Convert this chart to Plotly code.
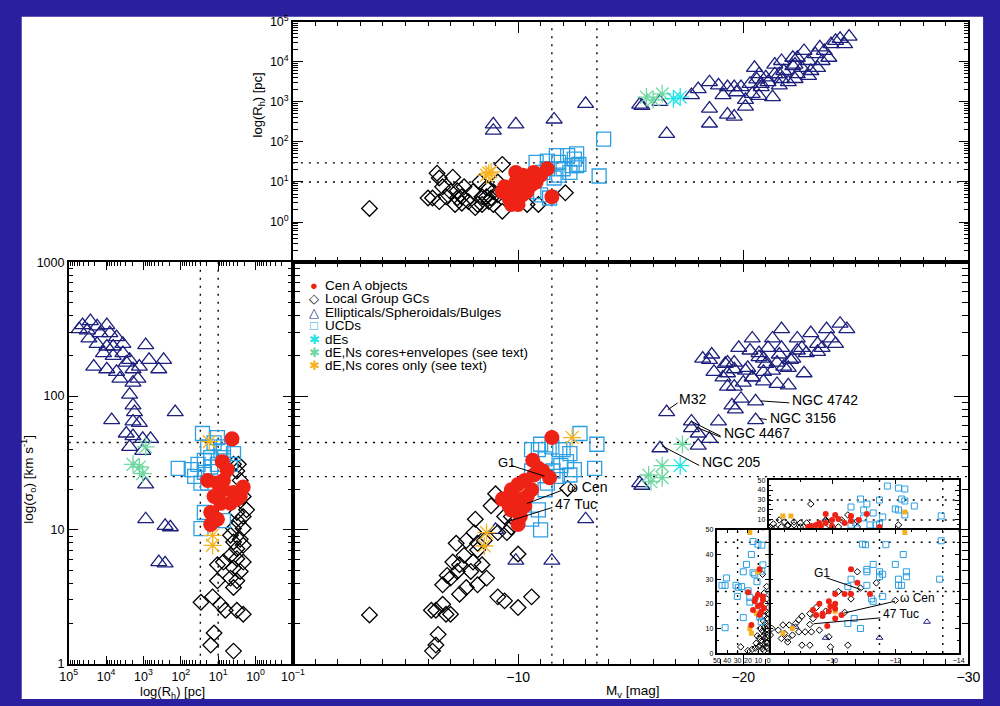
import plotly.graph_objects as go

W, H = 1000, 706
def fx(x): return x / W
def fy(y): return 1 - y / H

FONT = "Liberation Sans, Arial, sans-serif"
BG = "#2a1f9e"
C_CENA = "#ee2316"
C_GC = "#000000"
C_ELL = "#1c1f7c"
C_UCD = "#2c9fe3"
C_DE = "#22e6e6"
C_DENE = "#6fd8a2"
C_DENC = "#f5b21c"

# ---------------- DATA ----------------
# Top panel: (M_V [mag], log10 R_h [pc])
top_gc = [(-3.4, 0.34), (-6.4, 1.22), (-6.5, 1.10), (-7.1, 1.12), (-6.65, 0.88), (-6.2, 0.60), (-6.5, 0.51),
          (-7.0, 0.76), (-7.3, 0.60), (-7.5, 0.63), (-7.5, 0.47), (-7.8, 0.51), (-8.0, 0.76), (-8.2, 0.44),
          (-8.4, 0.63), (-8.6, 0.85), (-8.7, 0.51), (-8.9, 0.76), (-8.9, 0.44), (-9.3, 0.27), (-9.3, 1.44),
          (-9.1, 1.00), (-8.3, 1.00), (-10.4, 0.44), (-10.9, 0.44), (-12.1, 0.73), (-6.0, 0.60), (-6.8, 0.63),
          (-7.3, 0.78), (-7.6, 0.88), (-8.1, 0.36), (-7.2, 0.44), (-8.4, 0.44), (-8.8, 0.60), (-9.1, 0.68),
          (-8.6, 0.63), (-9.7, 0.51), (-9.8, 0.76)]
top_cena = [(-9.9, 1.24), (-10.2, 1.17), (-9.4, 0.88), (-9.6, 0.60), (-9.7, 0.44), (-10.0, 0.44), (-9.9, 0.76),
            (-10.3, 0.93), (-10.4, 1.10), (-10.7, 1.24), (-11.0, 1.17), (-11.3, 1.33), (-10.2, 0.68),
            (-10.6, 0.93), (-9.9, 1.00), (-11.5, 0.63), (-9.3, 0.76), (-10.4, 0.76), (-10.8, 1.00)]
top_ucd = [(-13.8, 2.07), (-13.6, 1.15), (-10.8, 1.49), (-11.3, 1.52), (-11.7, 1.66), (-12.2, 1.66), (-12.5, 1.57),
           (-12.6, 1.41), (-12.0, 1.33), (-12.3, 1.24), (-12.7, 1.44), (-11.6, 1.10), (-11.1, 1.24), (-11.8, 1.17),
           (-10.7, 0.76), (-11.0, 0.68), (-11.4, 0.60), (-11.8, 1.49), (-12.4, 1.41), (-11.3, 1.33), (-12.6, 1.70)]
top_ell = [(-8.9, 2.44), (-8.9, 2.28), (-9.9, 2.44), (-11.6, 2.56), (-13.0, 2.95),
           (-15.4, 2.93), (-15.5, 2.90), (-16.3, 3.00), (-16.6, 2.20), (-17.7, 3.17), (-18.0, 3.32), (-18.5, 2.83),
           (-18.5, 2.46), (-18.5, 3.49), (-18.9, 3.41), (-19.1, 3.17), (-19.3, 3.37), (-19.3, 2.68), (-19.6, 2.63),
           (-19.6, 3.37), (-19.9, 3.37), (-19.7, 3.24), (-20.1, 2.88), (-20.1, 3.05), (-20.5, 3.85), (-20.6, 3.56),
           (-20.3, 3.45), (-20.4, 3.20), (-20.7, 3.15), (-20.8, 3.37), (-21.0, 3.61), (-21.3, 3.12), (-21.4, 3.93),
           (-21.7, 4.02), (-21.6, 3.69), (-21.8, 3.77), (-22.2, 4.10), (-22.3, 3.93), (-22.0, 3.49), (-22.4, 3.69),
           (-22.7, 4.27), (-22.9, 4.02), (-22.6, 3.85), (-23.0, 3.77), (-23.3, 3.85), (-23.4, 4.36), (-23.6, 4.27),
           (-23.9, 4.44), (-24.1, 4.52), (-24.3, 4.57), (-24.7, 4.63), (-24.5, 4.44), (-22.9, 3.65), (-22.3, 3.57),
           (-21.6, 3.41), (-21.1, 3.49), (-21.7, 3.57), (-22.4, 4.10), (-23.2, 4.19), (-23.8, 4.10), (-23.5, 4.02),
           (-22.2, 3.89), (-21.4, 3.69), (-20.8, 3.45), (-20.7, 3.69)]
top_de = [(-17.2, 3.12), (-16.9, 3.08)]
top_dene = [(-15.7, 3.12), (-16.4, 3.20), (-16.0, 3.05)]
top_denc = [(-8.7, 1.22), (-8.6, 1.17), (-8.8, 1.25)]

# Main panel: (M_V [mag], log10 sigma_0 [km/s])
main_cena = [(-11.5, 1.69), (-10.65, 1.52), (-10.9, 1.46), (-11.1, 1.44), (-11.4, 1.39), (-10.3, 1.37),
             (-10.0, 1.34), (-9.7, 1.30), (-9.6, 1.25), (-9.3, 1.23), (-10.0, 1.23), (-10.4, 1.25), (-10.3, 1.18),
             (-9.7, 1.15), (-10.1, 1.10), (-10.0, 1.04), (-10.6, 1.30), (-9.6, 1.18), (-10.7, 1.41)]
main_gc = [(-3.4, 0.365), (-6.2, 0.095), (-6.35, 0.14), (-6.45, 0.22), (-6.15, 0.40), (-6.65, 0.445), (-7.0, 0.37),
           (-6.65, 0.59), (-7.0, 0.64), (-6.85, 0.66), (-7.3, 0.69), (-7.7, 0.57), (-7.4, 0.74), (-7.1, 0.76),
           (-7.6, 0.81), (-8.0, 0.76), (-7.25, 0.90), (-7.7, 0.92), (-8.05, 0.98), (-8.4, 0.74), (-8.6, 0.64),
           (-8.2, 0.85), (-8.5, 0.92), (-8.1, 1.08), (-8.8, 1.18), (-9.1, 0.98), (-9.1, 0.50), (-9.4, 0.47),
           (-10.0, 0.42), (-10.6, 0.50), (-10.0, 0.82), (-9.0, 1.27), (-12.2, 1.31), (-9.7, 1.02), (-9.5, 0.98),
           (-7.4, 0.52), (-6.35, 0.40), (-6.8, 0.37), (-7.9, 0.69), (-8.2, 0.59), (-9.4, 1.10), (-9.7, 1.10),
           (-8.2, 0.90)]
main_ell = [(-13.0, 1.08), (-9.9, 0.77), (-11.5, 0.77), (-9.0, 1.00),
            (-16.6, 1.88), (-17.7, 1.81), (-17.7, 1.76), (-18.0, 1.72), (-18.0, 1.63), (-18.5, 1.68), (-18.9, 1.81),
            (-16.3, 1.61), (-15.4, 1.35), (-15.5, 1.33), (-19.5, 1.93), (-19.65, 1.90), (-19.9, 1.98),
            (-20.55, 1.96), (-20.55, 1.82), (-19.3, 2.07), (-18.5, 2.27), (-19.2, 2.24), (-19.6, 2.20),
            (-19.3, 2.17), (-20.1, 2.19), (-20.4, 2.14), (-20.3, 2.34), (-20.7, 2.29), (-21.0, 2.24), (-21.3, 2.19),
            (-21.5, 2.09), (-22.0, 2.08), (-20.9, 2.11), (-21.6, 2.31), (-22.1, 2.27), (-22.4, 2.34), (-22.7, 2.17),
            (-21.8, 2.22), (-23.3, 2.33),
            (-18.2, 2.28), (-18.6, 2.31), (-19.3, 2.25), (-19.8, 2.36), (-20.4, 2.43), (-21.1, 2.36), (-21.7, 2.50),
            (-22.4, 2.43), (-23.0, 2.47), (-23.7, 2.50), (-24.3, 2.54), (-24.6, 2.50), (-24.1, 2.39), (-23.5, 2.36),
            (-22.8, 2.32), (-22.2, 2.28), (-21.5, 2.25), (-20.9, 2.18), (-20.4, 2.14), (-20.0, 2.10), (-19.6, 2.07),
            (-18.7, 2.18), (-19.6, 2.25), (-20.9, 2.28), (-21.7, 2.36), (-22.6, 2.36), (-23.3, 2.39), (-23.9, 2.43),
            (-21.3, 2.43), (-20.7, 2.32), (-22.0, 2.21), (-20.2, 2.21), (-19.1, 2.14)]
main_ucd = [(-12.75, 1.72), (-13.5, 1.64), (-13.4, 1.46), (-11.0, 1.64), (-10.9, 1.60), (-11.2, 1.53), (-11.5, 1.62),
            (-12.0, 1.60), (-12.3, 1.57), (-12.15, 1.51), (-12.5, 1.45), (-11.9, 1.48), (-11.55, 1.44),
            (-11.3, 1.35), (-11.2, 1.30), (-11.75, 1.40), (-12.3, 1.41), (-10.6, 1.44), (-10.9, 1.15),
            (-11.0, 1.00), (-10.6, 1.08), (-11.85, 1.60), (-10.6, 1.60)]
main_de = [(-17.2, 1.48)]
main_dene = [(-17.3, 1.64), (-16.4, 1.48), (-15.8, 1.41), (-16.4, 1.39), (-15.9, 1.36)]
main_denc = [(-12.4, 1.69), (-8.5, 0.88), (-8.6, 0.98), (-10.1, 1.15)]

# Left panel: (log10 R_h [pc], log10 sigma_0 [km/s])
left_ell = [(4.63, 2.53), (4.42, 2.56), (4.24, 2.52), (3.98, 2.53), (4.50, 2.49), (4.16, 2.47), (3.90, 2.47),
            (3.72, 2.44), (4.24, 2.39), (3.98, 2.37), (4.07, 2.32), (3.81, 2.30), (3.55, 2.39), (3.55, 2.32),
            (3.37, 2.27), (3.28, 2.20), (2.94, 2.38), (2.85, 2.27), (2.59, 2.20), (2.46, 2.27), (3.15, 2.13),
            (3.72, 2.18), (3.98, 2.20), (4.33, 2.22), (3.46, 2.25), (3.11, 2.22), (3.63, 2.13), (3.28, 2.10),
            (3.37, 2.01), (3.28, 1.93), (3.24, 1.88), (2.15, 1.88), (3.85, 1.82), (3.28, 1.81), (3.11, 1.80),
            (3.46, 1.72), (3.28, 1.70), (3.02, 1.68), (2.81, 1.68), (3.37, 1.62), (3.02, 1.59), (2.94, 1.34),
            (2.94, 1.08), (2.42, 1.03), (2.28, 1.02), (2.59, 0.76), (2.42, 0.75), (4.46, 2.43), (4.72, 2.50),
            (3.81, 2.37)]
left_dene = [(3.11, 1.47), (3.02, 1.42), (2.94, 1.62), (3.28, 1.49)]
left_ucd = [(2.07, 1.46), (1.42, 1.72), (1.28, 1.62), (1.11, 1.65), (1.02, 1.69), (0.86, 1.62), (0.86, 1.54),
            (0.59, 1.57), (1.37, 1.52), (1.54, 1.49), (1.72, 1.45), (1.37, 1.43), (1.20, 1.47), (1.02, 1.49),
            (1.46, 1.35), (1.37, 1.13), (1.46, 1.01), (0.86, 1.07), (0.67, 1.49), (1.20, 1.54), (0.93, 1.59),
            (1.63, 1.40), (1.28, 1.35)]
left_cena = [(0.63, 1.68), (0.89, 1.51), (1.28, 1.37), (1.02, 1.35), (0.86, 1.30), (0.59, 1.28), (0.41, 1.25),
             (1.11, 1.25), (0.93, 1.20), (0.67, 1.20), (0.50, 1.23), (1.20, 1.13), (1.02, 1.08), (1.20, 1.04),
             (0.86, 1.37), (0.76, 1.45), (0.33, 1.32)]
left_denc = [(1.24, 1.66), (1.15, 0.885), (1.15, 0.96)]
left_gc = [(0.59, 1.49), (0.41, 1.37), (0.33, 1.25), (0.50, 1.13), (0.33, 1.10), (0.46, 1.06), (0.59, 1.01),
           (0.33, 1.01), (0.67, 0.96), (0.41, 0.93), (0.59, 0.91), (0.33, 0.885), (0.50, 0.86), (0.67, 0.81),
           (0.86, 0.76), (0.50, 0.785), (0.33, 0.76), (0.59, 0.715), (0.41, 0.69), (0.67, 0.64), (0.50, 0.62),
           (0.59, 0.57), (1.02, 0.62), (1.02, 0.74), (1.46, 0.46), (1.15, 0.50), (0.93, 0.44), (0.81, 0.40),
           (0.50, 0.40), (0.33, 0.37), (1.11, 0.23), (1.20, 0.14), (0.59, 0.095), (0.24, 1.15), (0.46, 1.49),
           (0.50, 1.44)]

# Inset, upper: (M_V [mag], R_h [pc], linear)
inset_top_ucd = [(-11.75, 44), (-12.1, 42), (-12.3, 41), (-10.9, 31), (-11.1, 26), (-10.6, 23), (-11.5, 30),
                 (-12.2, 31), (-12.3, 29), (-12.6, 24), (-12.0, 21), (-12.1, 20), (-12.3, 15), (-11.3, 17),
                 (-11.0, 20), (-11.0, 12), (-11.5, 6), (-11.4, 5), (-10.6, 5), (-10.75, 7), (-11.2, 5),
                 (-13.45, 14), (-11.6, 13)]
inset_top_gc = [(-9.33, 26), (-8.33, 10), (-8.6, 4), (-8.6, 5), (-8.8, 5), (-9.0, 7), (-9.1, 3), (-9.2, 7),
                (-8.2, 2), (-8.1, 1.5), (-9.8, 9), (-10.2, 3), (-10.5, 15), (-9.8, 10), (-10.3, 10), (-10.8, 9),
                (-10.8, 3), (-12.1, 5), (-8.8, 8), (-9.0, 3), (-9.4, 3), (-8.4, 3), (-8.5, 8), (-9.6, 2),
                (-9.9, 5), (-8.0, 2), (-8.15, 6)]
inset_top_cena = [(-9.8, 16), (-10.1, 15), (-10.6, 14), (-10.2, 11), (-10.0, 10), (-9.6, 7), (-9.35, 4),
                  (-9.25, 3), (-9.65, 4), (-9.8, 7), (-10.4, 7), (-10.6, 9), (-10.85, 10), (-11.1, 16),
                  (-11.5, 3), (-10.0, 4), (-9.5, 5)]
inset_top_denc = [(-8.45, 14), (-8.7, 14), (-12.3, 18)]

# Inset, lower right: (M_V [mag], sigma_0 [km/s], linear)
inset_main_ucd = [(-10.96, 44.2), (-11.06, 44), (-11.7, 44), (-12.25, 40), (-12.0, 36), (-11.3, 36), (-11.1, 34),
                  (-11.1, 33), (-11.5, 33), (-11.5, 31), (-12.35, 33), (-12.35, 31), (-12.1, 30), (-12.2, 27.5),
                  (-12.1, 27.5), (-10.6, 30), (-10.5, 27), (-13.4, 30), (-13.45, 45.6), (-11.25, 22),
                  (-11.3, 21), (-11.6, 23), (-11.1, 27.5), (-10.7, 14), (-10.5, 12), (-10.9, 10), (-11.6, 32)]
inset_main_cena = [(-10.6, 34), (-10.8, 28.5), (-11.2, 24), (-10.6, 24), (-10.4, 24), (-10.1, 24), (-9.9, 21),
                   (-10.1, 20), (-9.6, 20), (-10.1, 18), (-9.9, 17), (-9.7, 16), (-9.5, 15.5), (-9.4, 17.5),
                   (-10.3, 15.5), (-10.1, 14), (-9.85, 11), (-9.7, 15), (-9.95, 19)]
inset_main_gc = [(-10.8, 33), (-11.4, 28.5), (-10.9, 26.4), (-10.2, 25), (-10.6, 22), (-10.4, 16.5), (-9.8, 17),
                 (-9.5, 18.5), (-9.3, 16), (-9.05, 15), (-8.95, 13.5), (-8.85, 12), (-9.4, 14), (-9.3, 11.6),
                 (-9.6, 9.3), (-9.35, 8.6), (-9.15, 8.6), (-8.65, 11.4), (-8.45, 11.4), (-8.3, 9.3), (-8.5, 8),
                 (-8.6, 5.9), (-8.4, 5.9), (-8.6, 4.5), (-8.95, 8.6), (-9.05, 3.2), (-9.3, 3.2), (-9.9, 6.6),
                 (-9.95, 2.5), (-10.5, 3.2), (-8.75, 7.3), (-8.1, 10), (-8.05, 7.3), (-12.0, 21.4)]
inset_main_denc = [(-10.1, 17), (-8.75, 10), (-8.45, 8), (-12.3, 49)]
inset_main_ell = [(-9.8, 6.2), (-11.5, 6.2), (-13.0, 12.7), (-8.85, 10.7)]

# Inset, lower left: (R_h [pc], sigma_0 [km/s], linear)
inset_left_ucd = [(45, 27.5), (42, 27.5), (40.6, 30.5), (31.5, 27.5), (29.3, 26.7), (26.1, 27), (30.2, 23),
                  (24.5, 33), (21.4, 36), (16.7, 40), (15.1, 45.3), (10.4, 44.2), (6.6, 43.8), (5.6, 35.8),
                  (6.6, 33.3), (13.5, 32), (15.1, 32.6), (11.3, 29), (19.8, 25.3), (18.2, 22.6), (18.2, 20.7),
                  (24.5, 14.4), (42, 10.3), (7.2, 12.7), (8.8, 14.8)]
inset_left_cena = [(5.6, 51), (8.8, 34), (19.8, 24.7), (10.4, 23.7), (5.6, 23), (13.5, 21), (7.2, 19.6),
                   (10.4, 19), (4.5, 18.2), (15.1, 17.5), (7.2, 16.8), (8.8, 15.5), (16.7, 11.4), (5.6, 21.6),
                   (12.6, 22.3)]
inset_left_gc = [(3, 17), (4, 15), (2, 14), (5, 13), (3, 12), (1.5, 11), (4, 10.5), (2.5, 9.5), (6, 9), (3.5, 8),
                 (1, 7.5), (5, 7), (2, 6.5), (4, 6), (7, 5), (3, 4.5), (1.5, 4), (5, 3.5), (8, 3), (10, 2.5),
                 (13, 2), (16, 1.5), (20, 1), (2.5, 2.5), (6, 1.8), (12, 4), (9, 6), (27, 2.5), (4.5, 1), (1, 2),
                 (3, 20), (2, 22), (1, 16), (8, 10), (11, 7), (4.3, 24.4), (6, 32), (2, 27)]
inset_left_denc = [(18.2, 49), (10.4, 33), (18.2, 10), (16.7, 8), (11.9, 16.2)]

# reference lines
mv_lines = [-11.5, -13.5]
rh_lines = [10, 30]
sig_lines = [25, 45]

legend_rows = [("●", C_CENA, "Cen A objects"), ("◇", C_GC, "Local Group GCs"),
               ("△", C_ELL, "Ellipticals/Spheroidals/Bulges"), ("□", C_UCD, "UCDs"),
               ("✱", C_DE, "dEs"), ("✱", C_DENE, "dE,Ns cores+envelopes (see text)"),
               ("✱", C_DENC, "dE,Ns cores only (see text)")]

# ranges
MV_RANGE = [0, -30]
RH_LOG_RANGE = [-1, 5]
SIG_LOG_RANGE = [0, 3]
LEFT_RH_LOG_RANGE = [5, -1]
IN_MV_RANGE = [-8, -14]
IN_Y_RANGE = [0, 50]
IN_RH_RANGE = [50, 0]

# ---------------- FIGURE ----------------
fig = go.Figure()

def marker(kind, size, lw=1.3):
    if kind == "cena":
        return dict(symbol="circle", size=size, color=C_CENA, line=dict(width=0))
    if kind == "gc":
        return dict(symbol="diamond-open", size=size, color=C_GC, line=dict(width=lw, color=C_GC))
    if kind == "ell":
        return dict(symbol="triangle-up-open", size=size, color=C_ELL, line=dict(width=lw, color=C_ELL))
    if kind == "ucd":
        return dict(symbol="square-open", size=size, color=C_UCD, line=dict(width=lw, color=C_UCD))
    if kind == "denc_sq":
        return dict(symbol="square", size=size, color=C_DENC, line=dict(width=0))
    col = {"de": C_DE, "dene": C_DENE, "denc": C_DENC}[kind]
    return dict(symbol="asterisk-open", size=size, color=col, line=dict(width=lw, color=col))

def add(data, kind, size, xa, ya, logx=False, logy=False, lw=1.3):
    xs = [10 ** a if logx else a for a, _ in data]
    ys = [10 ** b if logy else b for _, b in data]
    fig.add_trace(go.Scatter(x=xs, y=ys, xaxis=xa, yaxis=ya, mode="markers",
                             marker=marker(kind, size, lw), showlegend=False, hoverinfo="skip"))

BIG = dict(cena=15, gc=12, ell=14, ucd=14, ast=15)

for data, kind in [(top_ell, "ell"), (top_gc, "gc"), (top_ucd, "ucd"), (top_dene, "dene"), (top_de, "de"),
                   (top_denc, "denc"), (top_cena, "cena")]:
    add(data, kind, BIG.get(kind, BIG["ast"]), "x", "y", logy=True)
for data, kind in [(main_ell, "ell"), (main_gc, "gc"), (main_ucd, "ucd"), (main_dene, "dene"), (main_de, "de"),
                   (main_denc, "denc"), (main_cena, "cena")]:
    add(data, kind, BIG.get(kind, BIG["ast"]), "x2", "y2", logy=True)
for data, kind in [(left_ell, "ell"), (left_gc, "gc"), (left_ucd, "ucd"), (left_dene, "dene"),
                   (left_denc, "denc"), (left_cena, "cena")]:
    add(data, kind, BIG.get(kind, BIG["ast"]), "x3", "y3", logx=True, logy=True)
for data, kind, s in [(inset_top_gc, "gc", 5), (inset_top_ucd, "ucd", 6), (inset_top_denc, "denc_sq", 5),
                      (inset_top_cena, "cena", 6)]:
    add(data, kind, s, "x4", "y4", lw=1)
for data, kind, s in [(inset_main_ell, "ell", 6), (inset_main_gc, "gc", 5), (inset_main_ucd, "ucd", 6),
                      (inset_main_denc, "denc_sq", 5), (inset_main_cena, "cena", 6)]:
    add(data, kind, s, "x5", "y5", lw=1)
for data, kind, s in [(inset_left_gc, "gc", 5), (inset_left_ucd, "ucd", 6), (inset_left_denc, "denc_sq", 5),
                      (inset_left_cena, "cena", 6)]:
    add(data, kind, s, "x6", "y6", lw=1)

# ---------------- AXES ----------------
def log_minor(lo, hi):
    return [m * 10 ** k for k in range(lo, hi) for m in range(2, 10)]

def axis(dom, anchor, rng, typ="linear", tv=None, tt=None, minor=None, tl=10, ml=5, labels=True,
         fs=12, lw=1.5, tw=1):
    d = dict(domain=dom, anchor=anchor, range=rng, type=typ, showline=True, linecolor="black", linewidth=lw,
             mirror="allticks", ticks="inside", ticklen=tl, tickwidth=tw, tickcolor="black",
             showgrid=False, zeroline=False, tickmode="array", tickvals=tv,
             showticklabels=labels, tickfont=dict(family=FONT, size=fs, color="black"), fixedrange=True)
    if tt is not None:
        d["ticktext"] = tt
    if minor is not None:
        d["minor"] = dict(tickmode="array", tickvals=minor, ticks="inside", ticklen=ml,
                          tickcolor="black", tickwidth=tw, showgrid=False)
    return d

X_MAIN = [fx(290), fx(980)]
Y_TOP = [fy(259), fy(13)]
Y_MAIN = [fy(670), fy(259)]
X_LEFT = [fx(61), fx(290)]
X_IN = [fx(776), fx(970)]
X_INL = [fx(723), fx(776)]
Y_INT = [fy(533), fy(482)]
Y_INM = [fy(659), fy(533)]

mv_minor = [-v for v in range(0, 31) if v % 10]
pow_text = lambda k: "10<sup>%d</sup>" % k if k >= 0 else "10<sup>−%d</sup>" % (-k)

layout = dict(
    xaxis=axis(X_MAIN, "y", MV_RANGE, tv=[-10, -20], minor=mv_minor, tl=12, ml=5, labels=False),
    yaxis=axis(Y_TOP, "x", RH_LOG_RANGE, "log", tv=[10 ** k for k in range(0, 6)],
               tt=[pow_text(k) for k in range(0, 6)], minor=log_minor(-1, 5), tl=10, ml=5, fs=12.5),
    xaxis2=axis(X_MAIN, "y2", MV_RANGE, tv=[-10, -20, -30], tt=["−10", "−20", "−30"], minor=mv_minor,
                tl=10, ml=5, fs=14),
    yaxis2=axis(Y_MAIN, "x2", SIG_LOG_RANGE, "log", tv=[10, 100], minor=log_minor(0, 3),
                tl=15, ml=7, labels=False),
    xaxis3=axis(X_LEFT, "y3", LEFT_RH_LOG_RANGE, "log", tv=[10 ** k for k in range(-1, 6)],
                tt=[pow_text(k) for k in range(-1, 6)], minor=log_minor(-1, 5), tl=8, ml=4, fs=12.5),
    yaxis3=axis(Y_MAIN, "x3", SIG_LOG_RANGE, "log", tv=[1, 10, 100, 1000], tt=["1", "10", "100", "1000"],
                minor=log_minor(0, 3), tl=10, ml=5, fs=12.5),
    xaxis4=axis(X_IN, "y4", IN_MV_RANGE, tv=[-10, -12], minor=[-9, -11, -13], tl=4, ml=2,
                labels=False, lw=2),
    yaxis4=axis(Y_INT, "x4", IN_Y_RANGE, tv=[10, 20, 30, 40, 50], tt=["10", "20", "30", "40", "50"],
                minor=[5, 15, 25, 35, 45], tl=4, ml=2, fs=7, lw=2),
    xaxis5=axis(X_IN, "y5", IN_MV_RANGE, tv=[-10, -12, -14], tt=["−10", "−12", "−14"],
                minor=[-8.5, -9, -9.5, -10.5, -11, -11.5, -12.5, -13, -13.5], tl=4, ml=2, fs=7, lw=2),
    yaxis5=axis(Y_INM, "x5", IN_Y_RANGE, tv=[10, 20, 30, 40], minor=[5, 15, 25, 35, 45], tl=4, ml=2,
                labels=False, lw=2),
    xaxis6=axis(X_INL, "y6", IN_RH_RANGE, tv=[50, 40, 30, 20, 10, 0], tt=["50", "40", "30", "20", "10", "0"],
                tl=3, fs=7, lw=2),
    yaxis6=axis(Y_INM, "x6", IN_Y_RANGE, tv=[0, 10, 20, 30, 40, 50], tt=["0", "10", "20", "30", "40", "50"],
                minor=[5, 15, 25, 35, 45], tl=4, ml=2, fs=7, lw=2),
)

# ---------------- SHAPES ----------------
DOT = dict(color="black", width=1.4, dash="2px,6px")
shapes = [dict(type="rect", xref="paper", yref="paper", x0=fx(13), x1=fx(995), y0=0, y1=fy(8),
               fillcolor="white", line=dict(width=0), layer="below")]

def hlines(xr, yr, vals, xrange):
    for v in vals:
        shapes.append(dict(type="line", xref=xr, yref=yr, x0=xrange[0], x1=xrange[1], y0=v, y1=v,
                           line=DOT, layer="below"))

def vlines(xr, yr, vals, yrange):
    for v in vals:
        shapes.append(dict(type="line", xref=xr, yref=yr, x0=v, x1=v, y0=yrange[0], y1=yrange[1],
                           line=DOT, layer="below"))

hlines("x", "y", rh_lines, MV_RANGE)
vlines("x", "y", mv_lines, [10 ** RH_LOG_RANGE[0], 10 ** RH_LOG_RANGE[1]])
hlines("x2", "y2", sig_lines, MV_RANGE)
vlines("x2", "y2", mv_lines, [1, 1000])
hlines("x3", "y3", sig_lines, [10 ** LEFT_RH_LOG_RANGE[0], 10 ** LEFT_RH_LOG_RANGE[1]])
vlines("x3", "y3", rh_lines, [1, 1000])
hlines("x4", "y4", rh_lines, IN_MV_RANGE)
vlines("x4", "y4", mv_lines, IN_Y_RANGE)
hlines("x5", "y5", sig_lines, IN_MV_RANGE)
vlines("x5", "y5", mv_lines, IN_Y_RANGE)
hlines("x6", "y6", sig_lines, IN_RH_RANGE)
vlines("x6", "y6", rh_lines, IN_Y_RANGE)

# leader lines for labels (pixel positions of the label artwork)
leaders = [((513, 467), (547, 478)), ((566, 492), (529, 506)), ((555, 510), (511, 524)),
           ((683, 403), (673, 410)), ((768, 401), (797, 403)), ((766, 419), (774, 420)),
           ((697, 422), (727, 437)), ((702, 428), (727, 438)), ((667, 447), (705, 467)),
           ((835, 582), (870, 594)), ((905, 606), (853, 618)), ((890, 623), (822, 629))]
for (x0, y0), (x1, y1) in leaders:
    shapes.append(dict(type="line", xref="paper", yref="paper", x0=fx(x0), y0=fy(y0), x1=fx(x1), y1=fy(y1),
                       line=dict(color="black", width=1), layer="above"))

# ---------------- ANNOTATIONS ----------------
ann = []
def text(x, y, s, size=12, anchor="left", angle=0, color="black"):
    ann.append(dict(x=fx(x), y=fy(y), xref="paper", yref="paper", text=s, showarrow=False, xanchor=anchor,
                    yanchor="middle", textangle=angle, font=dict(family=FONT, size=size, color=color)))

for i, (sym, col, lab) in enumerate(legend_rows):
    yy = 283 + i * 13.7
    text(312, yy, sym, size=13, anchor="center", color=col)
    text(321, yy, lab, size=13.5)

text(255, 98, "log(R<sub>h</sub>) [pc]", size=13, anchor="center", angle=-90)
text(20, 481, "log(σ<sub>o</sub>) [km s<sup>-1</sup>]", size=13.5, anchor="center", angle=-90)
text(167, 699, "log(R<sub>h</sub>) [pc]", size=13, anchor="center")
text(637, 698, "M<sub>v</sub> [mag]", size=13.5, anchor="center")

text(497, 464, "G1", size=13)
text(568, 489, "ω Cen", size=14)
text(556, 506, "47 Tuc", size=14)
text(682, 399, "M32", size=14)
text(798, 400, "NGC 4742", size=14)
text(775, 418, "NGC 3156", size=14)
text(728, 434, "NGC 4467", size=14)
text(706, 464, "NGC 205", size=14)
text(820, 577, "G1", size=12)
text(908, 603, "ω Cen", size=12)
text(891, 619, "47 Tuc", size=12)

fig.update_layout(width=W, height=H, margin=dict(l=0, r=0, t=0, b=0), paper_bgcolor=BG, plot_bgcolor="white",
                  showlegend=False, shapes=shapes, annotations=ann, **layout)

fig.write_html("out.html")
